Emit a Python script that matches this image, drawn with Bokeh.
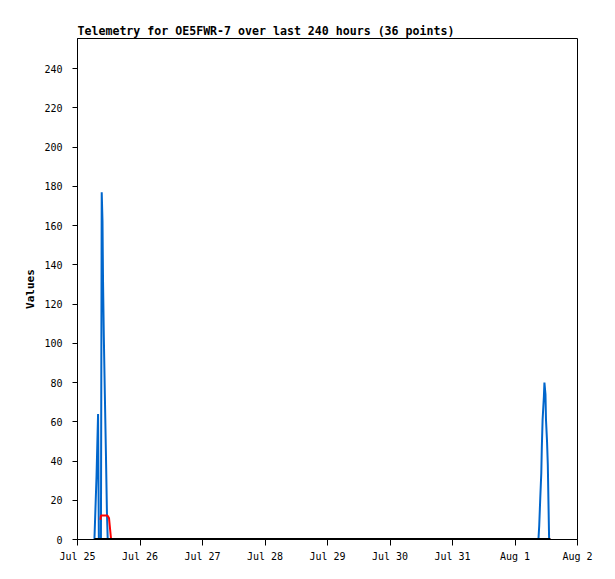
from bokeh.plotting import figure
from bokeh.models import Range1d, FixedTicker
from bokeh.embed import file_html
from bokeh.resources import INLINE

# x axis: hours since Jul 25 00:00
tick_hours = [0, 24, 48, 72, 96, 120, 144, 168, 192]
tick_labels = ["Jul 25", "Jul 26", "Jul 27", "Jul 28", "Jul 29", "Jul 30", "Jul 31", "Aug 1", "Aug 2"]
y_ticks = [0, 20, 40, 60, 80, 100, 120, 140, 160, 180, 200, 220, 240]

blue_hours = [6.5, 7.3, 7.9, 8.2, 9.0, 9.3, 9.6, 9.8, 10.1, 10.5, 10.9, 11.3, 11.6,
              177.0, 177.3, 177.7, 178.1, 178.3, 178.6, 179.1, 179.3,
              179.7, 179.9, 180.3, 180.6, 181.1]
blue_values = [0, 32, 64, 0, 0, 177, 162, 132, 104, 74, 45, 14, 0,
               0, 7, 21, 34, 47, 61, 73, 80,
               74, 61, 50, 38, 0]

red_hours = [8.8, 9.0, 11.5, 12.1, 12.9, 181.6]
red_values = [10, 12.2, 12.2, 10.9, 0, 0]

black_hours = [6.5, 181.6]
black_values = [0, 0]

MONO = "DejaVu Sans Mono"

p = figure(frame_width=500, frame_height=501,
           x_range=Range1d(0, 192), y_range=Range1d(0, 255.3),
           output_backend="svg", toolbar_location=None,
           min_border_left=77, min_border_right=31,
           min_border_top=38, min_border_bottom=32,
           title="Telemetry for OE5FWR-7 over last 240 hours (36 points)")

p.background_fill_color = "white"
p.border_fill_color = "white"
p.outline_line_color = "black"
p.outline_line_width = 1
p.grid.grid_line_color = None

p.title.text_font = MONO
p.title.text_font_style = "bold"
p.title.text_font_size = "11.6px"
p.title.text_color = "black"
p.title.align = "left"
p.title.standoff = 2
p.title.offset = 0

for ax in (p.xaxis[0], p.yaxis[0]):
    ax.axis_line_color = "black"
    ax.major_tick_line_color = "black"
    ax.minor_tick_line_color = None
    ax.major_tick_in = 0
    ax.major_label_text_font = MONO
    ax.major_label_text_font_size = "10px"
    ax.major_label_text_color = "black"

p.xaxis.ticker = FixedTicker(ticks=tick_hours)
p.xaxis.major_label_overrides = dict(zip(tick_hours, tick_labels))
p.xaxis.major_tick_out = 6
p.xaxis.major_label_standoff = 5

p.yaxis.ticker = FixedTicker(ticks=y_ticks)
p.yaxis.major_tick_out = 5
p.yaxis.major_label_standoff = 10
p.yaxis.axis_label = "Values"
p.yaxis.axis_label_text_font = MONO
p.yaxis.axis_label_text_font_style = "bold"
p.yaxis.axis_label_text_font_size = "11px"
p.yaxis.axis_label_text_color = "black"
p.yaxis.axis_label_standoff = 4

p.line(blue_hours, blue_values, line_color="#0066cc", line_width=2)
p.line(red_hours, red_values, line_color="#ff0000", line_width=2)
p.line(black_hours, black_values, line_color="black", line_width=3)

open("out.html", "w").write(file_html(p, INLINE))
